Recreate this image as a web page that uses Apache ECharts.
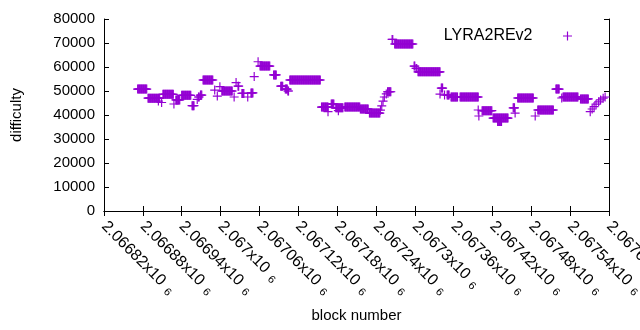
<!DOCTYPE html>
<html>
<head>
<meta charset="utf-8">
<script src="https://cdn.jsdelivr.net/npm/echarts@6/dist/echarts.min.js"></script>
<style>
  html, body { margin: 0; padding: 0; background: #fff; }
  #chart { width: 640px; height: 330px; }
</style>
</head>
<body>
<div id="chart"></div>
<script>
// runs of blocks that share one difficulty value
const runStart = [
  2066872, 2066888, 2066904, 2066909, 2066911, 2066928, 2066931, 2066940, 2066956, 2066964,
  2066966, 2066969, 2066973, 2066991, 2066995, 2066999, 2067002, 2067021, 2067024, 2067027,
  2067033, 2067042, 2067047, 2067052, 2067058, 2067061, 2067082, 2067093, 2067100, 2067104,
  2067107, 2067156, 2067166, 2067171, 2067178, 2067182, 2067192, 2067216, 2067230, 2067247,
  2067249, 2067251, 2067253, 2067256, 2067258, 2067265, 2067269, 2067299, 2067302, 2067305,
  2067339, 2067341, 2067346, 2067350, 2067356, 2067370, 2067398, 2067399, 2067404, 2067421,
  2067428, 2067452, 2067455, 2067459, 2067486, 2067490, 2067518, 2067527, 2067529, 2067556,
  2067571, 2067574, 2067577, 2067580, 2067584, 2067587, 2067591, 2067594
];
const runEnd = [
  2066886, 2066906, 2066904, 2066909, 2066927, 2066928, 2066937, 2066954, 2066959, 2066964,
  2066967, 2066971, 2066988, 2066991, 2066995, 2066999, 2067018, 2067021, 2067024, 2067028,
  2067036, 2067042, 2067050, 2067052, 2067058, 2067076, 2067086, 2067096, 2067103, 2067105,
  2067154, 2067166, 2067166, 2067175, 2067189, 2067182, 2067215, 2067228, 2067246, 2067247,
  2067249, 2067251, 2067253, 2067256, 2067263, 2067266, 2067297, 2067300, 2067303, 2067339,
  2067339, 2067343, 2067346, 2067353, 2067366, 2067398, 2067398, 2067399, 2067419, 2067444,
  2067434, 2067454, 2067455, 2067483, 2067486, 2067514, 2067523, 2067527, 2067552, 2067568,
  2067571, 2067574, 2067577, 2067580, 2067584, 2067587, 2067591, 2067594
];
const runValue = [
  50800, 47000, 45800, 45200, 48600, 44600, 46300, 48200, 43900, 46500,
  47500, 48300, 54600, 50400, 47900, 51800, 50000, 47500, 53500, 52000,
  49000, 47500, 49200, 56000, 62200, 60400, 56700, 52000, 50800, 50000,
  54600, 43300, 41400, 44600, 43000, 41800, 43300, 42500, 40800, 42000,
  43800, 45800, 47500, 48800, 49700, 71500, 69600, 60400, 59400, 58000,
  48700, 51200, 48300, 48300, 47500, 47500, 42100, 39600, 41800, 38700,
  37300, 43000, 40800, 47100, 39600, 42100, 50800, 47100, 47500, 46700,
  41400, 42500, 43500, 44500, 45500, 46300, 47000, 47500
];

const seriesName = 'LYRA2REv2'
const xMin = 2066820
const xMax = 2067600
const xStep = 60
const yMax = 80000
const yStep = 10000

const points = []
runStart.forEach((s, i) => {
  for (let b = s; b <= runEnd[i]; b++) points.push([b, runValue[i]])
})

const plus = 'path://M-1,-0.13H1V0.13H-1Z M-0.13,-1H0.13V1H-0.13Z'
const font = 'Liberation Sans'

function sciLabel(v) {
  const s = String(Math.round(v))
  const mant = (s[0] + '.' + s.slice(1)).replace(/0+$/, '').replace(/\.$/, '')
  return mant + 'x10 {s|6}'
}

const chart = echarts.init(document.getElementById('chart'))
chart.setOption({
  animation: false,
  textStyle: { fontFamily: font },
  grid: { left: 104, right: 31, top: 19, bottom: 119, outerBoundsMode: 'none' },
  legend: {
    data: [{ name: seriesName, icon: plus }],
    right: 63,
    top: 23,
    align: 'right',
    itemWidth: 60,
    itemHeight: 9,
    textStyle: { fontSize: 16, color: '#000', fontFamily: font },
  },
  xAxis: [
    {
      type: 'value',
      min: xMin,
      max: xMax,
      interval: xStep,
      name: 'block number',
      nameLocation: 'middle',
      nameGap: 97,
      nameTextStyle: { fontSize: 15, color: '#000' },
      axisLine: { lineStyle: { color: '#000', width: 1 } },
      axisTick: { inside: true, length: 5, lineStyle: { color: '#000' } },
      splitLine: { show: false },
      axisLabel: {
        rotate: -45,
        margin: 13,
        fontSize: 16,
        color: '#000',
        showMaxLabel: true,
        showMinLabel: true,
        formatter: sciLabel,
        rich: { s: { fontSize: 11, color: '#000', padding: [7, 0, 0, 2] } },
      },
    },
    {
      type: 'value',
      position: 'top',
      min: xMin,
      max: xMax,
      interval: xStep,
      axisLine: { lineStyle: { color: '#000', width: 1 } },
      axisTick: { inside: true, length: 5, lineStyle: { color: '#000' } },
      axisLabel: { show: false },
      splitLine: { show: false },
    },
  ],
  yAxis: [
    {
      type: 'value',
      min: 0,
      max: yMax,
      interval: yStep,
      name: 'difficulty',
      nameLocation: 'middle',
      nameGap: 80,
      nameTextStyle: { fontSize: 15, color: '#000' },
      axisLine: { show: true, lineStyle: { color: '#000', width: 1 } },
      axisTick: { show: true, inside: true, length: 5, lineStyle: { color: '#000' } },
      axisLabel: { fontSize: 15, color: '#000', margin: 9, formatter: (v) => String(v) },
      splitLine: { show: false },
    },
    {
      type: 'value',
      position: 'right',
      min: 0,
      max: yMax,
      interval: yStep,
      axisLine: { show: true, lineStyle: { color: '#000', width: 1 } },
      axisTick: { show: true, inside: true, length: 5, lineStyle: { color: '#000' } },
      axisLabel: { show: false },
      splitLine: { show: false },
    },
  ],
  series: [
    {
      name: seriesName,
      type: 'scatter',
      symbol: plus,
      symbolSize: 9,
      itemStyle: { color: '#9400d3', opacity: 1 },
      data: points,
    },
  ],
})
</script>
</body>
</html>
